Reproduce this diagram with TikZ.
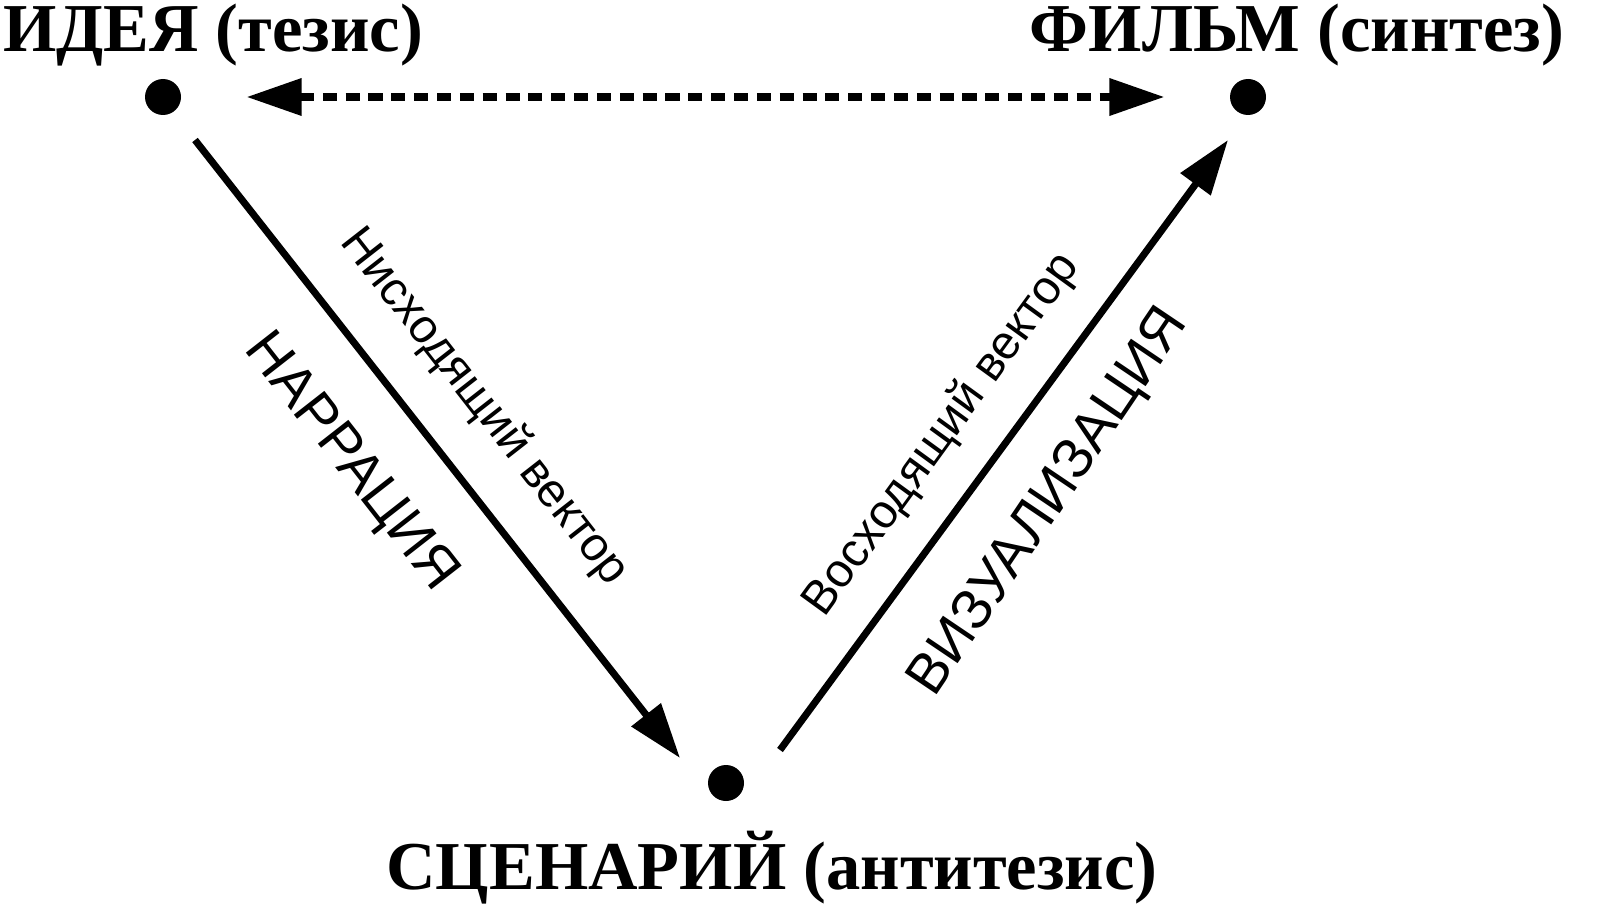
\documentclass[tikz,border=0pt]{standalone}
\usepackage{fontspec}
\setmainfont{Liberation Serif}
\setsansfont{Liberation Sans}
\usetikzlibrary{arrows.meta}

\begin{document}
\begin{tikzpicture}
    \tikzset{
        dot/.style = {circle, fill = black, inner sep = 0pt, minimum size = 0.36cm},
        title/.style = {font = \fontsize{19.5}{22}\selectfont\bfseries},
        tip/.style = {Triangle[length = 0.55cm, width = 0.36cm]},
        vec/.style = {line width = 2pt, -{Triangle[length = 0.55cm, width = 0.36cm]}},
        small/.style = {font = \sffamily\fontsize{13.5}{15}\selectfont},
        big/.style = {font = \sffamily\fontsize{16}{18}\selectfont}
    }
    \useasboundingbox (0,0) rectangle (16,9.23);
    % Vertices
    \node[dot] (idea) at (1.63,8.26) {};
    \node[dot] (film) at (12.48,8.26) {};
    \node[dot] (script) at (7.26,1.40) {};
    \node[title] (ideat) at (2.13,8.88) {ИДЕЯ (тезис)};
    \node[title] (filmt) at (12.97,8.88) {ФИЛЬМ (синтез)};
    \node[title] (scriptt) at (7.72,0.55) {СЦЕНАРИЙ (антитезис)};
    % Connectors
    \draw[line width = 2pt, dash pattern = on 4pt off 2.5pt, {Triangle[length = 0.55cm, width = 0.36cm]}-{Triangle[length = 0.55cm, width = 0.36cm]}] ([xshift = 0.65cm]idea.east) -- ([xshift = -0.65cm]film.west);
    \draw[vec] ([shift = {(0.32,-0.43)}]idea.center) -- ([shift = {(-0.46,0.25)}]script.center);
    \draw[vec] ([shift = {(0.54,0.33)}]script.center) -- ([shift = {(-0.2,-0.43)}]film.center);
    % Labels
    \node[small, rotate = -52] (down) at (4.84,5.16) {Нисходящий вектор};
    \node[big, rotate = -52] (narr) at (3.50,4.60) {НАРРАЦИЯ};
    \node[small, rotate = 54] (up) at (9.42,4.88) {Восходящий вектор};
    \node[big, rotate = 56] (vis) at (10.50,4.20) {ВИЗУАЛИЗАЦИЯ};
\end{tikzpicture}
\end{document}
